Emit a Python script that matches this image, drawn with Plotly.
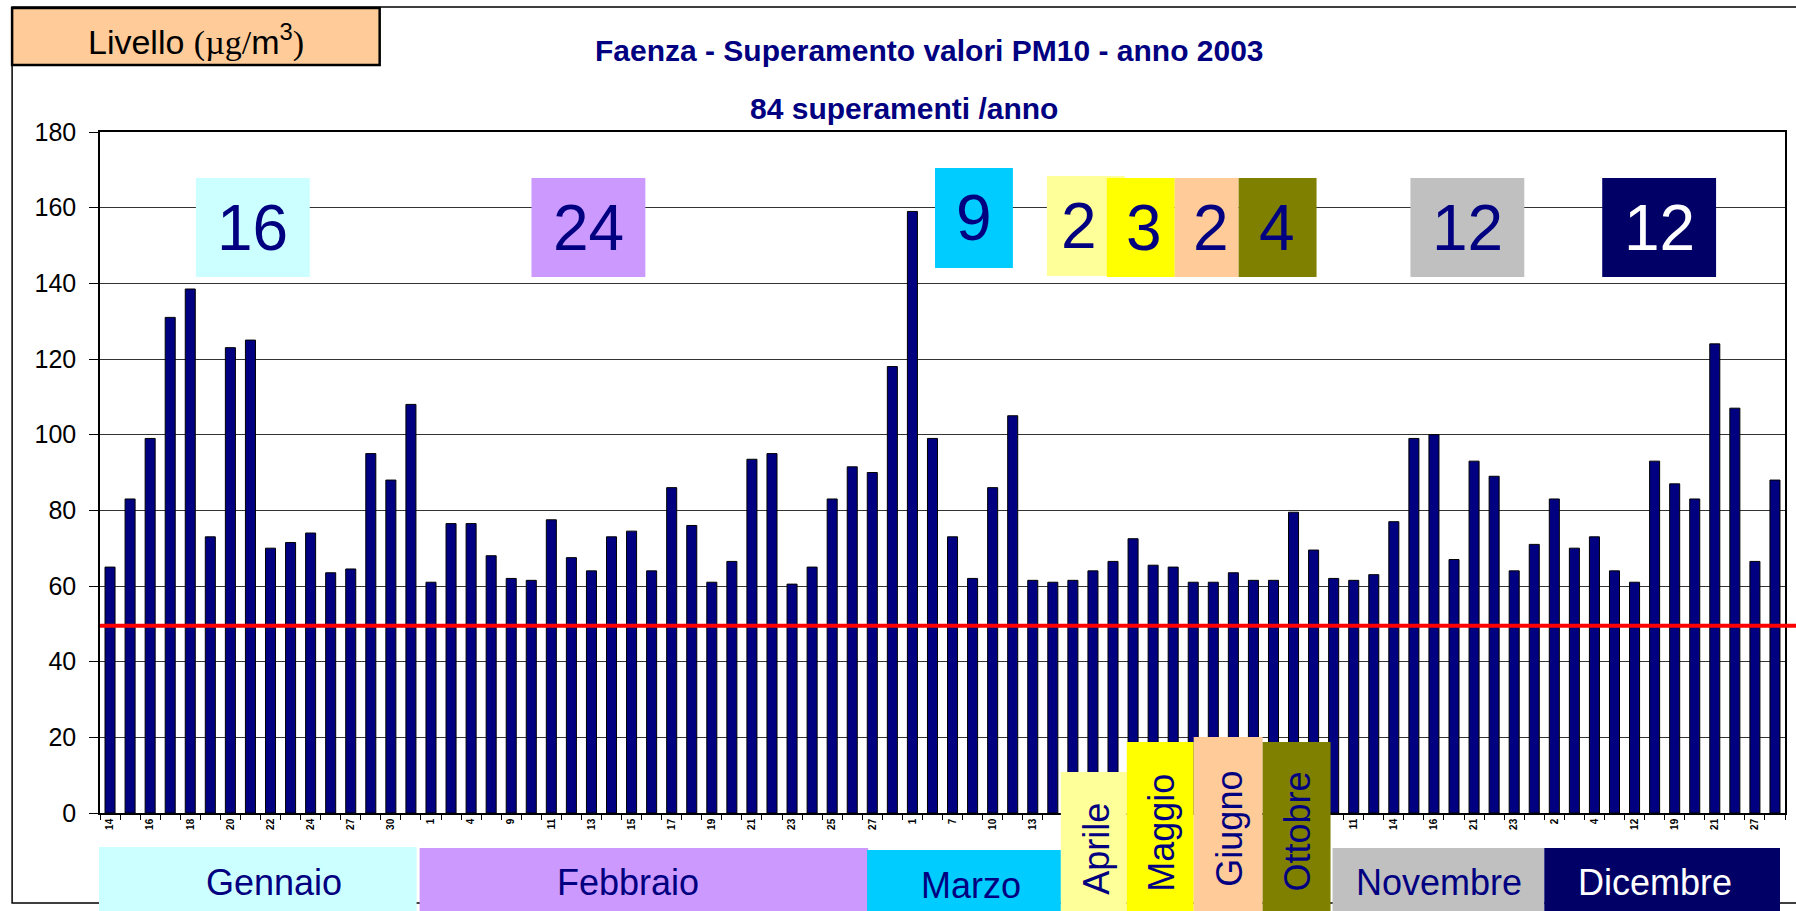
import plotly.graph_objects as go

# PM10 daily values above the limit, Faenza 2003 (84 days)
pm10 = [65, 83, 99, 131, 138.5, 73, 123, 125, 70, 71.5, 74, 63.5, 64.5, 95, 88, 108,
        61, 76.5, 76.5, 68, 62, 61.5, 77.5, 67.5, 64, 73, 74.5, 64, 86, 76, 61, 66.5,
        93.5, 95, 60.5, 65, 83, 91.5, 90, 118,
        159, 99, 73, 62, 86, 105, 61.5, 61, 61.5,
        64, 66.5,
        72.5, 65.5, 65,
        61, 61,
        63.5, 61.5, 61.5, 79.5,
        69.5, 62, 61.5, 63, 77, 99, 100, 67, 93, 89, 64, 71,
        83, 70, 73, 64, 61, 93, 87, 83, 124, 107, 66.5, 88]

# labels on every other bar (blank where the month boxes cover them)
day_labels = ["14", "16", "18", "20", "22", "24", "27", "30",
              "1", "4", "9", "11", "13", "15", "17", "19", "21", "23", "25", "27",
              "1", "7", "10", "13",
              "", "", "", "", "", "", "",
              "11", "14", "16", "21", "23",
              "2", "4", "12", "19", "21", "27"]

months = ["Gennaio", "Febbraio", "Marzo", "Aprile", "Maggio", "Giugno", "Ottobre", "Novembre", "Dicembre"]
counts = [16, 24, 9, 2, 3, 2, 4, 12, 12]
month_colors = ["#CCFFFF", "#CC99FF", "#00CCFF", "#FFFF99", "#FFFF00", "#FFCC99", "#808000", "#C0C0C0", "#000066"]
text_colors = ["#000080"] * 8 + ["#FFFFFF"]
limit = 49.5

W, H = 1796, 911
ML, MR, MT, MB = 100, 9, 132, 98
PW, PH = W - ML - MR, H - MT - MB


def px(x):
    return (x - ML) / PW


def py(y):
    return (H - MB - y) / PH


# box layout in pixels: x0, x1, y0, y1, text x
count_boxes = [(196, 310, 178, 277, 253), (532, 646, 178, 277, 589), (936, 1014, 168, 268, 975),
               (1048, 1126, 176, 276, 1080), (1108, 1176, 178, 277, 1145), (1176, 1240, 178, 277, 1212),
               (1240, 1318, 178, 277, 1278), (1412, 1526, 178, 277, 1469), (1604, 1718, 178, 277, 1661)]
# x0, x1, top, text x, text y, vertical
label_boxes = [(99, 417, 847, 274, 883, False), (420, 869, 848, 629, 883, False),
               (868, 1062, 850, 972, 885, False), (1062, 1128, 772, 1097, 849, True),
               (1128, 1195, 742, 1162, 833, True), (1195, 1264, 737, 1230, 829, True),
               (1264, 1332, 742, 1298, 832, True), (1334, 1546, 848, 1441, 883, False),
               (1546, 1782, 848, 1657, 883, False)]

SANS = "Liberation Sans, Arial, sans-serif"
SERIF = "Liberation Serif, Times New Roman, serif"

fig = go.Figure()
fig.add_trace(go.Bar(
    x=list(range(len(pm10))),
    y=pm10,
    marker=dict(color="#000080", line=dict(color="black", width=1)),
    width=0.5,
))

shapes = []
annotations = []

# outer chart border
shapes.append(dict(type="rect", xref="paper", yref="paper", x0=px(12), x1=px(1802), y0=py(7), y1=py(903),
                   line=dict(color="black", width=1.5), layer="above"))

# limit line
shapes.append(dict(type="line", xref="paper", yref="y", x0=0, x1=px(1800), y0=limit, y1=limit,
                   line=dict(color="#FF0000", width=4), layer="above"))

for i, m in enumerate(months):
    x0, x1, y0, y1, tx = count_boxes[i]
    shapes.append(dict(type="rect", xref="paper", yref="paper", x0=px(x0), x1=px(x1), y0=py(y1), y1=py(y0),
                       fillcolor=month_colors[i], line=dict(width=0), layer="above"))
    annotations.append(dict(text=str(counts[i]), xref="paper", yref="paper", x=px(tx), y=py((y0 + y1) / 2),
                            showarrow=False, xanchor="center", yanchor="middle",
                            font=dict(family=SANS, size=64, color=text_colors[i])))

for i, m in enumerate(months):
    x0, x1, top, tx, ty, vert = label_boxes[i]
    shapes.append(dict(type="rect", xref="paper", yref="paper", x0=px(x0), x1=px(x1), y0=py(915), y1=py(top),
                       fillcolor=month_colors[i], line=dict(width=0), layer="above"))
    annotations.append(dict(text=m, xref="paper", yref="paper", x=px(tx), y=py(ty),
                            showarrow=False, xanchor="center", yanchor="middle",
                            textangle=-90 if vert else 0,
                            font=dict(family=SANS, size=36, color=text_colors[i])))

# unit box
shapes.append(dict(type="rect", xref="paper", yref="paper", x0=px(12), x1=px(380), y0=py(65), y1=py(8),
                   fillcolor="#FFCC99", line=dict(color="black", width=2.5), layer="above"))
annotations.append(dict(
    text='Livello <span style="font-family:' + SERIF + '">(\u00b5g/</span>m<sup>3</sup>'
         '<span style="font-family:' + SERIF + '">)</span>',
    xref="paper", yref="paper", x=px(196), y=py(40), showarrow=False,
    xanchor="center", yanchor="middle", font=dict(family=SANS, size=34, color="black")))

annotations.append(dict(text="Faenza - Superamento valori PM10 - anno 2003", xref="paper", yref="paper",
                        x=px(930), y=py(51), showarrow=False, xanchor="center", yanchor="middle",
                        font=dict(family=SANS, size=30, color="#000080", weight="bold")))
annotations.append(dict(text="84 superamenti /anno", xref="paper", yref="paper",
                        x=px(905), y=py(109), showarrow=False, xanchor="center", yanchor="middle",
                        font=dict(family=SANS, size=30, color="#000080", weight="bold")))

tick_pos = [i * 2 for i, t in enumerate(day_labels) if t]
tick_txt = [t for t in day_labels if t]

fig.update_layout(
    width=W, height=H,
    margin=dict(l=ML, r=MR, t=MT, b=MB),
    paper_bgcolor="white", plot_bgcolor="white",
    showlegend=False,
    shapes=shapes,
    annotations=annotations,
    xaxis=dict(
        range=[-0.5, len(pm10) - 0.5],
        tickmode="array",
        tickvals=tick_pos,
        ticktext=tick_txt,
        tickangle=-90,
        ticks="",
        tickfont=dict(family=SANS, size=10, color="black", weight="bold"),
        minor=dict(ticks="outside", ticklen=5, tickcolor="black", tick0=-0.5, dtick=1, showgrid=False),
        showline=True, linecolor="black", linewidth=1.5, mirror=True,
        showgrid=False, zeroline=False,
    ),
    yaxis=dict(
        range=[0, 180],
        tickmode="linear", tick0=0, dtick=20,
        ticks="outside", ticklen=9, tickcolor="black",
        ticklabelstandoff=8,
        tickfont=dict(family=SANS, size=25, color="black"),
        showline=True, linecolor="black", linewidth=1.5, mirror=True,
        showgrid=True, gridcolor="#333333", gridwidth=1,
        zeroline=False,
    ),
)

fig.write_html("out.html", config={"displayModeBar": False},
               post_script="document.body.style.margin='0';document.body.style.overflow='hidden';")
